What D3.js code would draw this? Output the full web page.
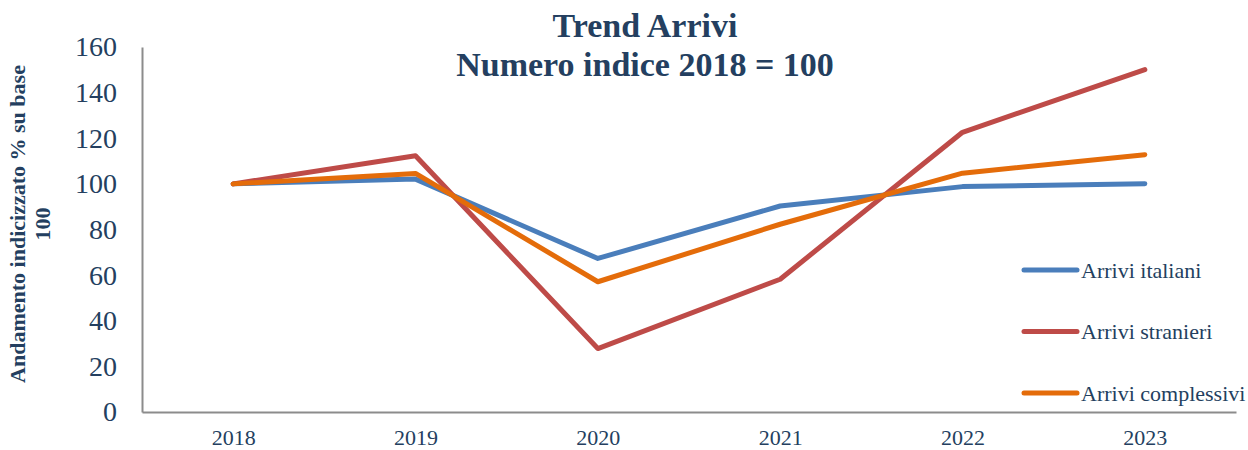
<!DOCTYPE html>
<html>
<head>
<meta charset="utf-8">
<script src="https://cdn.jsdelivr.net/npm/d3@7"></script>
<style>
  body { margin: 0; background: #fff; }
  text { font-family: "Liberation Serif", "DejaVu Serif", serif; fill: #243f60; }
</style>
</head>
<body>
<div id="chart"></div>
<script>
// Data
const years = ['2018', '2019', '2020', '2021', '2022', '2023']
const italiani = [100, 102.1, 67.3, 90.3, 98.8, 100.1]
const stranieri = [100, 112.3, 27.8, 58.2, 122.6, 150.1]
const complessivi = [100, 104.6, 57.1, 82.3, 104.7, 112.8]
const yTicks = [0, 20, 40, 60, 80, 100, 120, 140, 160]

const series = [
  { name: 'Arrivi italiani', values: italiani, color: '#4a7ebb' },
  { name: 'Arrivi stranieri', values: stranieri, color: '#be4b48' },
  { name: 'Arrivi complessivi', values: complessivi, color: '#e46c0a' },
]

// Dimensions
const dimensions = {
  width: 1248,
  height: 450,
  margin: { top: 47, right: 12, bottom: 38, left: 142 },
}
const innerW = dimensions.width - dimensions.margin.left - dimensions.margin.right
const innerH = dimensions.height - dimensions.margin.top - dimensions.margin.bottom

const svg = d3.select('#chart')
  .append('svg')
  .attr('width', dimensions.width)
  .attr('height', dimensions.height)

const g = svg.append('g')
  .attr('transform', `translate(${dimensions.margin.left}, ${dimensions.margin.top})`)

// Scales
const x = d3.scalePoint()
  .domain(years)
  .range([0, innerW])
  .padding(0.5)

const y = d3.scaleLinear()
  .domain([0, 160])
  .range([innerH, 0])

// Axes
const yAxis = g.append('g')
  .call(d3.axisLeft(y).tickValues(yTicks).tickSize(0).tickPadding(25))
yAxis.select('.domain').attr('stroke', '#8c8c8c').attr('stroke-width', 2)
yAxis.selectAll('text')
  .style('font-size', '28px')
  .attr('fill', '#243f60')

const xAxis = g.append('g')
  .attr('transform', `translate(0, ${innerH})`)
  .call(d3.axisBottom(x).tickSize(0).tickPadding(17))
xAxis.select('.domain').attr('stroke', '#8c8c8c').attr('stroke-width', 2)
xAxis.selectAll('text')
  .style('font-size', '22px')
  .attr('fill', '#243f60')

// Lines
const line = d3.line()
  .x((d, i) => x(years[i]))
  .y(d => y(d))

g.append('g')
  .selectAll('path')
  .data(series)
  .join('path')
  .attr('d', d => line(d.values))
  .attr('fill', 'none')
  .attr('stroke', d => d.color)
  .attr('stroke-width', 5)
  .attr('stroke-linecap', 'round')
  .attr('stroke-linejoin', 'round')

// Title
const title = svg.append('text')
  .attr('text-anchor', 'middle')
  .style('font-size', '34px')
  .style('font-weight', 'bold')
title.append('tspan').attr('x', 645).attr('y', 37).text('Trend Arrivi')
title.append('tspan').attr('x', 645).attr('y', 76).text('Numero indice 2018 = 100')

// Y axis title
const yTitle = svg.append('text')
  .attr('transform', 'translate(0, 224) rotate(-90)')
  .attr('text-anchor', 'middle')
  .style('font-size', '22px')
  .style('font-weight', 'bold')
yTitle.append('tspan').attr('x', 0).attr('y', 25).text('Andamento indicizzato % su base')
yTitle.append('tspan').attr('x', 0).attr('y', 50).text('100')

// Legend
const legend = svg.append('g')
  .selectAll('g')
  .data(series)
  .join('g')
  .attr('transform', (d, i) => `translate(1024, ${270 + i * 61.5})`)

legend.append('line')
  .attr('x1', 0)
  .attr('x2', 53)
  .attr('stroke', d => d.color)
  .attr('stroke-width', 5)
  .attr('stroke-linecap', 'round')

legend.append('text')
  .attr('x', 57)
  .attr('dy', '0.35em')
  .style('font-size', '22px')
  .text(d => d.name)
</script>
</body>
</html>
